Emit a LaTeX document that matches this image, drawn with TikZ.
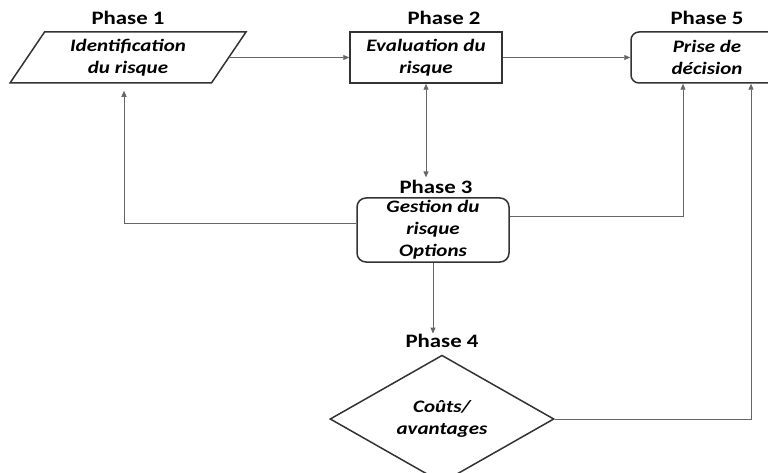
\documentclass[tikz,border=0pt]{standalone}
\usepackage{fontspec}
\setmainfont{Carlito}[FakeStretch=1.2]
\usetikzlibrary{shapes.geometric, positioning, arrows.meta}

\begin{document}
\begin{tikzpicture}[x=1pt, y=-1pt, >={Triangle[length=6pt,width=5pt]},
    box/.style={draw=black!80, line width=1.5pt, minimum width=152pt,
        minimum height=51pt, align=center, inner sep=0pt,
        font=\fontsize{17.5}{22}\selectfont\bfseries\itshape},
    phase/.style={font=\fontsize{19}{20}\selectfont\bfseries, inner sep=0pt},
    link/.style={draw=black!60, line width=0.9pt, ->}]
    \useasboundingbox (0,0) rectangle (768,473);
    \clip (0,0) rectangle (768,473);
    \fill[white] (0,0) rectangle (768,473);

    % the five phases
    \node[box, trapezium, trapezium left angle=47, trapezium right angle=133,
        trapezium stretches body, minimum width=236pt] (p1) at (128,57.5) {Identification\\du risque};
    \node[box] (p2) at (426,57.5) {Evaluation du\\risque};
    \node[box, rounded corners=8pt] (p5) at (707,57.5) {Prise de\\décision};
    \node[box, rounded corners=9pt, minimum height=64pt] (p3) at (433,230) {Gestion du\\risque\\Options};
    \node[box, diamond, minimum width=224pt, minimum height=112pt] (p4) at (442,419) {Coûts/\\avantages};

    \node[phase, above=6pt of p1] (l1) {Phase 1};
    \node[phase, above=6pt of p2, xshift=18pt] (l2) {Phase 2};
    \node[phase, above=6pt of p5] (l5) {Phase 5};
    \node[phase, above=3pt of p3, xshift=3pt] (l3) {Phase 3};
    \node[phase, above=7pt of p4] (l4) {Phase 4};

    % connectors
    \draw[link] (p1.east) -- (p2.west);
    \draw[link] (p2.east) -- (p5.west);
    \draw[link, <->, shorten >=3pt] (p2.south) -- (p2.south |- l3.north);
    \draw[link, shorten >=7pt] ([yshift=7pt]p3.west) -| ([xshift=-4pt]p1.south);
    \draw[link] ([yshift=14pt]p3.east) -| ([xshift=-24pt]p5.south);
    \draw[link] (p3.south) -- (p3.south |- l4.north);
    \draw[link] (p4.east) -| ([xshift=44pt]p5.south);
\end{tikzpicture}
\end{document}
